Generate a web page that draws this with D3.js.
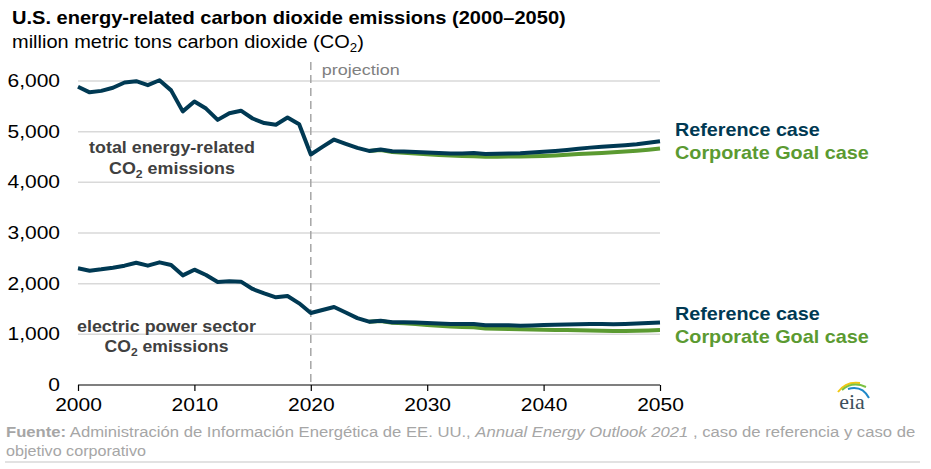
<!DOCTYPE html>
<html><head><meta charset="utf-8">
<script src="https://cdn.jsdelivr.net/npm/d3@7"></script>
<style>body{margin:0;background:#fff;font-family:"Liberation Sans",Arial,sans-serif;}</style>
</head><body><svg id="c" width="931" height="469"></svg>
<script>
const years = d3.range(2000, 2051);
const totalRef = [5887,5776,5805,5866,5970,5996,5918,6015,5815,5400,5594,5456,5233,5365,5414,5260,5169,5138,5278,5146,4550,
  4700,4845,4760,4680,4620,4650,4615,4610,4600,4590,4580,4570,4570,4580,4560,4565,4570,4575,4590,4605,4620,4640,4665,4685,4700,4715,4730,4750,4780,4810];
const totalCorpYears = d3.range(2025, 2051);
const totalCorp = [4620,4640,4600,4585,4570,4555,4540,4530,4520,4515,4505,4505,4510,4512,4515,4520,4530,4545,4560,4570,4580,4595,4610,4625,4645,4670];
const elecRef = [2303,2256,2283,2316,2355,2414,2355,2421,2368,2164,2276,2171,2033,2046,2040,1895,1809,1731,1757,1612,1420,
  1480,1540,1430,1320,1250,1270,1240,1240,1235,1225,1215,1205,1205,1205,1180,1180,1180,1170,1175,1185,1190,1195,1200,1205,1205,1200,1205,1215,1225,1235];
const elecCorp = [1250,1265,1230,1220,1205,1185,1170,1155,1145,1140,1115,1110,1105,1100,1095,1090,1085,1085,1080,1075,1070,1065,1068,1072,1078,1085];
const yTicks = [0,1000,2000,3000,4000,5000,6000];
const xTicks = [2000,2010,2020,2030,2040,2050];

const navy = "#003953", green = "#5b9a31", labelGray = "#404040";
const svg = d3.select("#c");
const x = d3.scaleLinear().domain([2000,2050]).range([78,660]);
const y = d3.scaleLinear().domain([0,6000]).range([385,81]);

// horizontal stretch about anchor x
function stretch(t, ax, factor){
  t.attr("transform",`translate(${ax},0) scale(${factor},1) translate(${-ax},0)`);
}
function stretchTo(t, ax, target){
  const w = t.node().getBBox().width;
  stretch(t, ax, target / w);
}

// gridlines
svg.append("g").selectAll("line").data(yTicks.filter(d=>d>0)).join("line")
  .attr("x1",78).attr("x2",660).attr("y1",d=>y(d)).attr("y2",d=>y(d))
  .attr("stroke","#d9d9d9").attr("stroke-width",1.5);

// y labels
svg.append("g").selectAll("text").data(yTicks).join("text")
  .attr("x",60).attr("y",d=>y(d)+6).attr("text-anchor","end")
  .attr("font-size",17.5).attr("fill","#000").text(d=>d3.format(",")(d))
  .each(function(){ stretch(d3.select(this), 60, 1.2); });

// x axis
const xa = svg.append("g").attr("transform","translate(0,385)")
  .call(d3.axisBottom(x).tickValues(xTicks).tickFormat(d3.format("d")).tickSize(6).tickPadding(8));
xa.select(".domain").attr("stroke","#000").attr("stroke-width",1.2).attr("d","M78,0H660");
xa.selectAll(".tick line").attr("stroke","#000").attr("stroke-width",1.2);
xa.selectAll(".tick text").attr("font-size",17.5).attr("font-family","Liberation Sans, Arial, sans-serif").attr("fill","#000")
  .each(function(){ stretch(d3.select(this), 0, 1.2); });

// projection line
svg.append("line").attr("x1",x(2020)).attr("x2",x(2020)).attr("y1",62).attr("y2",385)
  .attr("stroke","#a6a6a6").attr("stroke-width",1.5).attr("stroke-dasharray","8,5");
const pj = svg.append("text").attr("x",x(2020)+11).attr("y",75).attr("font-size",15).attr("fill","#808080").text("projection");
stretchTo(pj, x(2020)+11, 78);

const line = d3.line().x(d=>x(d[0])).y(d=>y(d[1]));
function draw(ys, vals, color){
  svg.append("path").datum(ys.map((yr,i)=>[yr,vals[i]])).attr("d",line)
    .attr("fill","none").attr("stroke",color).attr("stroke-width",4).attr("stroke-linejoin","round");
}
draw(totalCorpYears,totalCorp,green);
draw(years,totalRef,navy);
draw(totalCorpYears,elecCorp,green);
draw(years,elecRef,navy);

// labels
function lbl(cx, y1, l1, y2, w1, w2){
  const a = svg.append("text").attr("x",cx).attr("y",y1).attr("text-anchor","middle").attr("font-size",16)
    .attr("font-weight","bold").attr("fill",labelGray).text(l1);
  stretchTo(a, cx, w1);
  const t = svg.append("text").attr("x",cx).attr("y",y2).attr("text-anchor","middle").attr("font-size",16)
    .attr("font-weight","bold").attr("fill",labelGray);
  t.append("tspan").text("CO");
  t.append("tspan").attr("font-size",11).attr("dy",4).text("2");
  t.append("tspan").attr("dy",-4).text(" emissions");
  stretchTo(t, cx, w2);
}
lbl(172,153,"total energy-related",174,166,126);
lbl(166.5,332,"electric power sector",352,179,124);

// legends
function leg(y1,y2){
  const a = svg.append("text").attr("x",675).attr("y",y1).attr("font-size",18).attr("font-weight","bold").attr("fill",navy).text("Reference case");
  stretchTo(a, 675, 145);
  const b = svg.append("text").attr("x",675).attr("y",y2).attr("font-size",18).attr("font-weight","bold").attr("fill",green).text("Corporate Goal case");
  stretchTo(b, 675, 194);
}
leg(136,159);
leg(320,343);

// title
const ti = svg.append("text").attr("x",12).attr("y",24).attr("font-size",18).attr("font-weight","bold").attr("fill","#000")
  .text("U.S. energy-related carbon dioxide emissions (2000–2050)");
stretchTo(ti, 12, 554);
const st = svg.append("text").attr("x",12).attr("y",48).attr("font-size",18).attr("fill","#000");
st.append("tspan").text("million metric tons carbon dioxide (CO");
st.append("tspan").attr("font-size",12).attr("dy",4).text("2");
st.append("tspan").attr("dy",-4).text(")");
stretchTo(st, 12, 352);

// source
const s1 = svg.append("text").attr("x",6).attr("y",437).attr("font-size",15).attr("fill","#a6a6a6");
s1.append("tspan").attr("font-weight","bold").text("Fuente:");
s1.append("tspan").text(" Administración de Información Energética de EE. UU., ");
s1.append("tspan").attr("font-style","italic").text("Annual Energy Outlook 2021");
s1.append("tspan").text(" , caso de referencia y caso de");
stretchTo(s1, 6, 910);
const s2 = svg.append("text").attr("x",6).attr("y",456).attr("font-size",15).attr("fill","#a6a6a6").text("objetivo corporativo");
stretchTo(s2, 6, 140);
svg.append("line").attr("x1",5).attr("x2",920).attr("y1",462).attr("y2",462).attr("stroke","#d9d9d9").attr("stroke-width",1.5);

// eia logo
const lg = svg.append("g");
lg.append("text").attr("x",852).attr("y",409).attr("text-anchor","middle").attr("font-family","Liberation Serif, serif")
  .attr("font-size",22).attr("fill","#3d4f5c").text("eia");
lg.append("path").attr("d","M838,392 Q846,381 860,383").attr("fill","none").attr("stroke","#f2c811").attr("stroke-width",2);
lg.append("path").attr("d","M842,390 Q852,381 866,387").attr("fill","none").attr("stroke","#7cc242").attr("stroke-width",2);
lg.append("path").attr("d","M848,389 Q862,385 869,398").attr("fill","none").attr("stroke","#1e88c9").attr("stroke-width",2);
</script></body></html>
